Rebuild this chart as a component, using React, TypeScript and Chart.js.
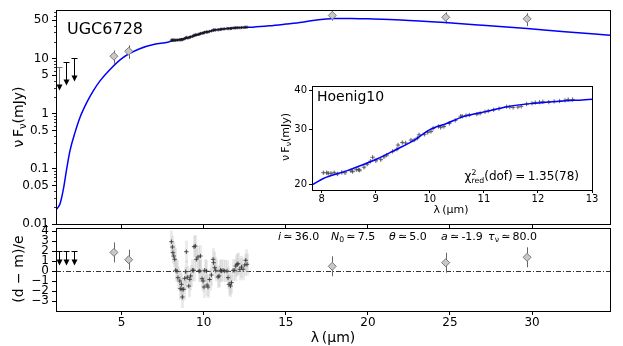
import React, { useEffect, useRef } from "react";
import { Chart, registerables } from "chart.js";
Chart.register(...registerables);

const W = 623;
const H = 346;
const FONT = "'DejaVu Sans', 'Liberation Sans', sans-serif";

// ---- model SED (blue line) ----
const modelLambda = [1.04, 1.24, 1.45, 1.65, 1.85, 2.16, 2.46, 2.87, 3.27, 3.68, 4.29, 5.08, 6.1, 7.0, 7.81, 8.03, 8.46, 9.02, 9.39, 9.7, 10.0, 10.31, 10.62, 11.05, 11.43, 11.86, 12.47, 13.0, 14.0, 15.0, 16.0, 17.0, 18.0, 19.0, 20.0, 22.0, 24.7, 27.0, 29.7, 32.0, 34.75];
const modelFlux = [0.0187, 0.023, 0.043, 0.1, 0.213, 0.46, 0.86, 1.6, 2.61, 3.96, 6.4, 10.5, 15.2, 18.3, 19.9, 20.9, 22.1, 24.1, 25.9, 27.6, 29.9, 31.3, 32.9, 34.2, 35.4, 36.2, 36.9, 37.4, 39.5, 42.5, 46, 51, 53.5, 54, 53, 50.5, 45.3, 40.5, 35.2, 31, 26.8];

// ---- Hoenig10 spectrum ----
const specLambda = [8.03, 8.09, 8.12, 8.17, 8.23, 8.29, 8.37, 8.43, 8.54, 8.57, 8.64, 8.68, 8.70, 8.78, 8.84, 8.90, 8.94, 9.00, 9.09, 9.15, 9.20, 9.31, 9.39, 9.41, 9.49, 9.55, 9.65, 9.71, 9.77, 9.80, 9.90, 9.96, 10.02, 10.06, 10.16, 10.20, 10.26, 10.36, 10.47, 10.57, 10.60, 10.67, 10.73, 10.87, 10.93, 11.02, 11.08, 11.18, 11.28, 11.42, 11.48, 11.54, 11.63, 11.69, 11.79, 11.89, 11.95, 12.03, 12.09, 12.20, 12.30, 12.40, 12.50, 12.56, 12.64];
const specFlux = [21.8, 21.8, 21.7, 21.7, 21.8, 21.6, 21.85, 21.8, 22.1, 22.0, 22.3, 22.3, 22.2, 22.7, 23.2, 23.7, 24.4, 23.8, 24.0, 24.5, 24.8, 25.5, 25.9, 26.7, 27.2, 27.1, 27.7, 27.7, 28.1, 28.8, 28.9, 29.3, 29.5, 30.2, 30.6, 30.4, 30.6, 31.3, 32.0, 33.0, 33.0, 33.2, 33.3, 33.5, 33.7, 34.1, 34.3, 34.6, 34.9, 35.4, 35.3, 35.2, 35.3, 35.5, 36.1, 36.3, 36.5, 36.6, 36.7, 36.6, 36.8, 36.9, 37.1, 37.3, 37.3];
const specErr = [0.3, 0.3, 0.3, 0.3, 0.3, 0.3, 0.3, 0.3, 0.3, 0.3, 0.3, 0.3, 0.3, 0.3, 0.3, 0.3, 0.3, 0.3, 0.3, 0.3, 0.3, 0.3, 0.3, 0.3, 0.3, 0.3, 0.3, 0.3, 0.3, 0.3, 0.3, 0.3, 0.3, 0.3, 0.3, 0.3, 0.3, 0.3, 0.3, 0.3, 0.3, 0.3, 0.3, 0.3, 0.3, 0.3, 0.3, 0.3, 0.3, 0.3, 0.3, 0.3, 0.3, 0.3, 0.3, 0.3, 0.3, 0.3, 0.3, 0.3, 0.3, 0.3, 0.3, 0.3, 0.3];
const specResid = [2.93, 2.4, 1.83, 1.5, 1.17, 0.07, -0.03, -0.67, -1.0, -1.77, -1.33, -1.83, -2.6, -1.83, -0.73, -0.07, 1.93, -0.63, -1.5, -0.83, -0.5, 0.07, 0.07, 2.43, 2.5, 1.17, 1.4, 0.0, 0.0, 1.5, -0.77, -1.0, -1.6, 0.07, 0.0, -1.4, -1.6, -0.85, -0.4, 1.17, 0.83, 0.33, 0.07, -0.6, -0.5, 0.07, 0.0, 0.07, 0.0, 0.0, -0.67, -1.33, -1.5, -1.17, 0.07, 0.07, 0.5, 0.67, 0.73, 0.17, 0.4, 0.17, 0.6, 1.07, 0.67];

// ---- photometry ----
const photLambda = [4.53, 5.43, 17.83, 24.74, 29.7];
const photFlux = [11.1, 13.7, 61, 56.6, 53];
const photErr = [3.0, 3.8, 12, 13, 14];
const photResid = [1.86, 1.13, 0.47, 0.83, 1.37];

// ---- upper limits ----
const limLambda = [1.17, 1.63, 2.12];
const limFlux = [7.2, 8.9, 10.3];
const limResid = [2, 2, 2];

// ---- ticks ----
const mainXTicks = [5, 10, 15, 20, 25, 30];
const mainYTicks = [0.01, 0.05, 0.1, 0.5, 1, 5, 10, 50];
const residYTicks = [-3, -2, -1, 0, 1, 2, 3, 4];
const insetXTicks = [8, 9, 10, 11, 12, 13];
const insetYTicks = [20, 30, 40];

const pts = (xs: number[], ys: number[]) => xs.map((x, i) => ({ x, y: ys[i] }));
const setTicks = (vals: number[]) => (s: any) => {
  s.ticks = vals.map((v) => ({ value: v }));
};
const fmt = (v: number) => (v < 0 ? "\u2212" + Math.abs(v) : String(v));

const framePlugin = {
  id: "frame",
  afterDraw(chart: any) {
    const { ctx, chartArea: a } = chart;
    const L = Math.round(a.left), T = Math.round(a.top), R = Math.round(a.right), B = Math.round(a.bottom);
    ctx.save();
    ctx.strokeStyle = "#000";
    ctx.lineWidth = 1;
    ctx.strokeRect(L + 0.5, T + 0.5, R - L, B - T);
    ctx.restore();
  },
};

function drawArrow(ctx: any, x: number, y: number, len: number, color: string) {
  ctx.save();
  ctx.strokeStyle = color;
  ctx.fillStyle = "#000";
  ctx.lineWidth = 1;
  const X = Math.round(x) + 0.5;
  const Y = Math.round(y) + 0.5;
  ctx.beginPath();
  ctx.moveTo(X - 3, Y);
  ctx.lineTo(X + 3, Y);
  ctx.moveTo(X, Y);
  ctx.lineTo(X, Y + len - 5);
  ctx.stroke();
  ctx.beginPath();
  ctx.moveTo(X - 3, Y + len - 6);
  ctx.lineTo(X + 3, Y + len - 6);
  ctx.lineTo(X, Y + len);
  ctx.closePath();
  ctx.fill();
  ctx.restore();
}

function vbar(ctx: any, x: number, y1: number, y2: number) {
  ctx.beginPath();
  ctx.moveTo(Math.round(x) + 0.5, y1);
  ctx.lineTo(Math.round(x) + 0.5, y2);
  ctx.stroke();
}

const mainExtras = {
  id: "mainExtras",
  beforeDatasetsDraw(chart: any) {
    const { ctx, scales } = chart;
    const x = scales.x, y = scales.y;
    ctx.save();
    ctx.strokeStyle = "#666";
    ctx.lineWidth = 1;
    photLambda.forEach((l, i) => {
      vbar(ctx, x.getPixelForValue(l), y.getPixelForValue(photFlux[i] - photErr[i]), y.getPixelForValue(photFlux[i] + photErr[i]));
    });
    ctx.restore();
  },
  afterDatasetsDraw(chart: any) {
    const { ctx, scales, chartArea } = chart;
    const x = scales.x, y = scales.y;
    limLambda.forEach((l, i) => drawArrow(ctx, x.getPixelForValue(l), y.getPixelForValue(limFlux[i]), 23, i === 0 ? "#777" : "#000"));
    // minor log ticks
    ctx.save();
    ctx.strokeStyle = "#000";
    ctx.lineWidth = 0.8;
    for (let e = -2; e <= 1; e++) {
      for (let m = 2; m <= 9; m++) {
        const v = m * Math.pow(10, e);
        if (v < y.min || v > y.max) continue;
        if (mainYTicks.some((t) => Math.abs(t - v) / v < 1e-6)) continue;
        const py = Math.round(y.getPixelForValue(v)) + 0.5;
        ctx.beginPath();
        ctx.moveTo(chartArea.left - 2, py);
        ctx.lineTo(chartArea.left, py);
        ctx.stroke();
      }
    }
    ctx.restore();
  },
};

const residExtras = {
  id: "residExtras",
  beforeDatasetsDraw(chart: any) {
    const { ctx, scales, chartArea } = chart;
    const x = scales.x, y = scales.y;
    ctx.save();
    // zero line
    ctx.strokeStyle = "#000";
    ctx.lineWidth = 0.8;
    ctx.setLineDash([5, 2, 1, 2]);
    const y0 = Math.round(y.getPixelForValue(0)) + 0.5;
    ctx.beginPath();
    ctx.moveTo(chartArea.left, y0);
    ctx.lineTo(chartArea.right, y0);
    ctx.stroke();
    ctx.setLineDash([]);
    // spectrum error shading
    ctx.strokeStyle = "rgba(190,190,190,0.3)";
    ctx.lineWidth = 3;
    specLambda.forEach((l, i) => {
      vbar(ctx, x.getPixelForValue(l), y.getPixelForValue(specResid[i] - 1.1), y.getPixelForValue(specResid[i] + 1.1));
    });
    // photometry error bars
    ctx.strokeStyle = "#666";
    ctx.lineWidth = 1;
    photLambda.forEach((l, i) => {
      vbar(ctx, x.getPixelForValue(l), y.getPixelForValue(photResid[i] - 1), y.getPixelForValue(photResid[i] + 1));
    });
    ctx.restore();
  },
  afterDatasetsDraw(chart: any) {
    const { ctx, scales } = chart;
    const x = scales.x, y = scales.y;
    limLambda.forEach((l, i) => drawArrow(ctx, x.getPixelForValue(l), y.getPixelForValue(limResid[i]), 14, "#000"));
  },
};

const insetExtras = {
  id: "insetExtras",
  beforeDatasetsDraw(chart: any) {
    const { ctx, scales } = chart;
    const x = scales.x, y = scales.y;
    ctx.save();
    ctx.strokeStyle = "rgba(160,160,160,0.5)";
    ctx.lineWidth = 2;
    specLambda.forEach((l, i) => {
      vbar(ctx, x.getPixelForValue(l), y.getPixelForValue(specFlux[i] - specErr[i]), y.getPixelForValue(specFlux[i] + specErr[i]));
    });
    ctx.restore();
  },
};

const tickFont = (size: number) => ({ family: FONT, size });
const gridOpts = { drawOnChartArea: false, drawTicks: true, tickLength: 4, color: "#000", lineWidth: 1 };
const baseOpts = {
  animation: false as const,
  responsive: false,
  maintainAspectRatio: false,
  events: [] as any[],
  plugins: { legend: { display: false }, tooltip: { enabled: false } },
};

function mainConfig(): any {
  return {
    type: "scatter",
    data: {
      datasets: [
        { data: pts(photLambda, photFlux), pointStyle: "rectRot", pointRadius: 4, backgroundColor: "#c8c8c8", borderColor: "#7a7a7a", borderWidth: 1, order: 0 },
        { data: pts(specLambda, specFlux), pointStyle: "cross", pointRadius: 1.6, borderColor: "rgba(25,25,25,0.8)", borderWidth: 1, order: 1 },
        { data: pts(modelLambda, modelFlux), showLine: true, borderColor: "#0000ff", borderWidth: 1.5, pointRadius: 0, cubicInterpolationMode: "monotone", order: 2 },
      ],
    },
    options: {
      ...baseOpts,
      layout: { padding: { left: 0, top: 10, right: 13, bottom: 122 } },
      scales: {
        x: {
          type: "linear", min: 1, max: 34.75, bounds: "data",
          afterBuildTicks: setTicks(mainXTicks),
          afterFit: (s: any) => { s.height = 0; },
          ticks: { display: false },
          grid: gridOpts, border: { display: false },
        },
        y: {
          type: "logarithmic", min: 0.01, max: 76, bounds: "data",
          afterBuildTicks: setTicks(mainYTicks),
          afterFit: (s: any) => { s.width = 56; },
          ticks: { font: tickFont(12), color: "#000", padding: 3, autoSkip: false, callback: (v: number) => String(v) },
          grid: gridOpts, border: { display: false },
        },
      },
    },
    plugins: [framePlugin, mainExtras],
  };
}

function residConfig(): any {
  return {
    type: "scatter",
    data: {
      datasets: [
        { data: pts(photLambda, photResid), pointStyle: "rectRot", pointRadius: 4, backgroundColor: "#c8c8c8", borderColor: "#7a7a7a", borderWidth: 1, order: 0 },
        { data: pts(specLambda, specResid), pointStyle: "cross", pointRadius: 2.2, borderColor: "rgba(50,50,50,0.85)", borderWidth: 1, order: 1 },
      ],
    },
    options: {
      ...baseOpts,
      layout: { padding: { left: 0, top: 228, right: 13, bottom: 0 } },
      scales: {
        x: {
          type: "linear", min: 1, max: 34.75, bounds: "data",
          afterBuildTicks: setTicks(mainXTicks),
          afterFit: (s: any) => { s.height = 35; },
          ticks: { font: tickFont(12), color: "#000", padding: 1, autoSkip: false, maxRotation: 0 },
          grid: gridOpts, border: { display: false },
        },
        y: {
          type: "linear", min: -4, max: 4.3, bounds: "data",
          afterBuildTicks: setTicks(residYTicks),
          afterFit: (s: any) => { s.width = 56; },
          ticks: { font: tickFont(12), color: "#000", padding: 3, autoSkip: false, callback: fmt },
          grid: gridOpts, border: { display: false },
        },
      },
    },
    plugins: [framePlugin, residExtras],
  };
}

function insetConfig(): any {
  return {
    type: "scatter",
    data: {
      datasets: [
        { data: pts(modelLambda, modelFlux), showLine: true, borderColor: "#0000ff", borderWidth: 1.5, pointRadius: 0, cubicInterpolationMode: "monotone", order: 0 },
        { data: pts(specLambda, specFlux), pointStyle: "cross", pointRadius: 2.2, borderColor: "rgba(70,70,70,0.75)", borderWidth: 1, order: 1 },
      ],
    },
    options: {
      ...baseOpts,
      layout: { padding: { left: 262, top: 86, right: 31, bottom: 136 } },
      scales: {
        x: {
          type: "linear", min: 7.82, max: 13, bounds: "data",
          afterBuildTicks: setTicks(insetXTicks),
          afterFit: (s: any) => { s.height = 20; },
          ticks: { font: tickFont(10), color: "#000", padding: 0, autoSkip: false, maxRotation: 0 },
          grid: { ...gridOpts, tickLength: 3 }, border: { display: false },
        },
        y: {
          type: "logarithmic", min: 19.2, max: 41.2, bounds: "data",
          afterBuildTicks: setTicks(insetYTicks),
          afterFit: (s: any) => { s.width = 50; },
          ticks: { font: tickFont(10), color: "#000", padding: 2, autoSkip: false, callback: (v: number) => String(v) },
          grid: { ...gridOpts, tickLength: 3 }, border: { display: false },
        },
      },
    },
    plugins: [framePlugin, insetExtras],
  };
}

const Sub = ({ children }: { children: any }) => (
  <span style={{ fontSize: "0.7em", position: "relative", top: "0.3em" }}>{children}</span>
);

function Txt({ x, y, size, align = "left", italic = false, children }: any) {
  const style: any = {
    position: "absolute",
    top: y - 0.928 * size,
    fontSize: size,
    lineHeight: `${1.164 * size}px`,
    fontFamily: FONT,
    whiteSpace: "nowrap",
    color: "#000",
    fontStyle: italic ? "italic" : "normal",
  };
  if (align === "left") style.left = x;
  else if (align === "right") style.right = W - x;
  else { style.left = x; style.transform = "translateX(-50%)"; }
  return <div style={style}>{children}</div>;
}

function VTxt({ x, y, size, children }: any) {
  return (
    <div
      style={{
        position: "absolute", left: x, top: y, fontSize: size, fontFamily: FONT, whiteSpace: "nowrap",
        lineHeight: 1, color: "#000", transform: "translate(-50%,-50%) rotate(-90deg)",
      }}
    >
      {children}
    </div>
  );
}

export default function App() {
  const c1 = useRef<HTMLCanvasElement>(null);
  const c2 = useRef<HTMLCanvasElement>(null);
  const c3 = useRef<HTMLCanvasElement>(null);

  useEffect(() => {
    const charts: Chart[] = [];
    if (c1.current) charts.push(new Chart(c1.current, mainConfig()));
    if (c2.current) charts.push(new Chart(c2.current, residConfig()));
    if (c3.current) charts.push(new Chart(c3.current, insetConfig()));
    return () => charts.forEach((c) => c.destroy());
  }, []);

  const cv: any = { position: "absolute", left: 0, top: 0, width: W, height: H };
  const sp = "\u2009";
  return (
    <div style={{ position: "fixed", left: 0, top: 0, width: W, height: H, background: "#fff", overflow: "hidden" }}>
      <canvas ref={c1} width={W} height={H} style={cv} />
      <canvas ref={c2} width={W} height={H} style={cv} />
      <canvas ref={c3} width={W} height={H} style={cv} />

      <Txt x={67} y={35} size={16}>UGC6728</Txt>
      <VTxt x={18} y={117} size={14}>
        ν{sp}F<Sub>ν</Sub>(mJy)
      </VTxt>
      <VTxt x={18} y={269} size={14}>(d − m)/e</VTxt>
      <Txt x={333} y={342} size={14} align="center">λ{sp}(μm)</Txt>

      <Txt x={278} y={241} size={11}><i>i</i>{sp}≃{sp}36.0</Txt>
      <Txt x={331} y={241} size={11}><i>N</i><Sub>0</Sub>{sp}≃{sp}7.5</Txt>
      <Txt x={389} y={241} size={11}><i>θ</i>{sp}≃{sp}5.0</Txt>
      <Txt x={441} y={241} size={11}><i>a</i>{sp}≃{sp}-1.9</Txt>
      <Txt x={488} y={241} size={11}><i>τ</i><Sub>ν</Sub>{sp}≃{sp}80.0</Txt>

      <Txt x={317} y={100.5} size={14}>Hoenig10</Txt>
      <Txt x={579} y={181} size={12} align="right">
        χ
        <span style={{ display: "inline-block", position: "relative", fontSize: "0.65em", lineHeight: 1, verticalAlign: "-0.4em" }}>
          red
          <span style={{ position: "absolute", left: 0, top: "-1.05em" }}>2</span>
        </span>
        (dof){sp}={sp}1.35(78)
      </Txt>
      <VTxt x={285} y={137} size={11}>
        ν{sp}F<Sub>ν</Sub>(mJy)
      </VTxt>
      <Txt x={451} y={214} size={11} align="center">λ{sp}(μm)</Txt>
    </div>
  );
}
